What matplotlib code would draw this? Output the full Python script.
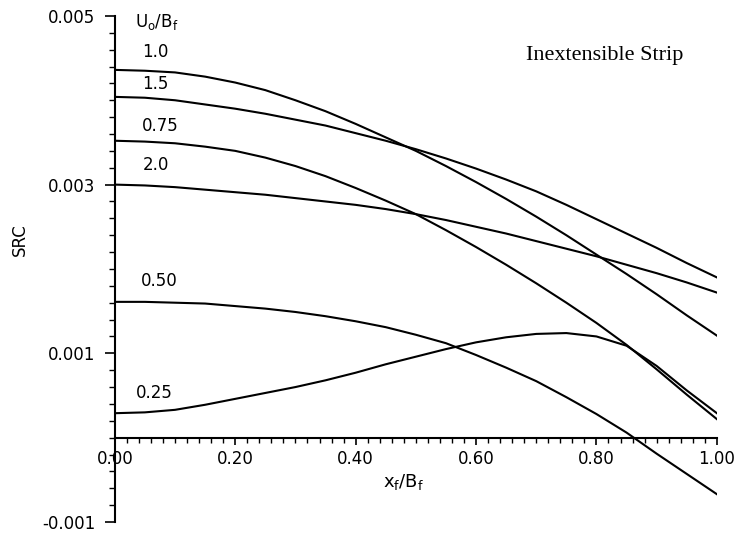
import numpy as np
import matplotlib.pyplot as plt
from matplotlib.ticker import MultipleLocator

xVals = [0.00, 0.05, 0.10, 0.15, 0.20, 0.25, 0.30, 0.35, 0.40, 0.45, 0.50,
         0.55, 0.60, 0.65, 0.70, 0.75, 0.80, 0.85, 0.90, 0.95, 1.00]

# SRC for each U_o/B_f
src100 = [0.00436, 0.00435, 0.00433, 0.00428, 0.00421, 0.00412, 0.00400, 0.00387, 0.00372, 0.00356, 0.00340,
          0.00322, 0.00303, 0.00283, 0.00262, 0.00240, 0.00217, 0.00194, 0.00170, 0.00145, 0.00121]
src150 = [0.00404, 0.00403, 0.00400, 0.00395, 0.00390, 0.00384, 0.00377, 0.00370, 0.00361, 0.00352, 0.00342,
          0.00331, 0.00319, 0.00306, 0.00292, 0.00276, 0.00259, 0.00242, 0.00225, 0.00207, 0.00190]
src075 = [0.00352, 0.00351, 0.00349, 0.00345, 0.00340, 0.00332, 0.00322, 0.00310, 0.00296, 0.00281, 0.00265,
          0.00246, 0.00226, 0.00205, 0.00183, 0.00160, 0.00136, 0.00110, 0.00081, 0.00051, 0.00022]
src200 = [0.00300, 0.00299, 0.00297, 0.00294, 0.00291, 0.00288, 0.00284, 0.00280, 0.00276, 0.00271, 0.00265,
          0.00258, 0.00250, 0.00242, 0.00233, 0.00224, 0.00215, 0.00205, 0.00195, 0.00184, 0.00172]
src050 = [0.00161, 0.00161, 0.00160, 0.00159, 0.00156, 0.00153, 0.00149, 0.00144, 0.00138, 0.00131, 0.00122,
          0.00112, 0.00098, 0.00083, 0.00067, 0.00048, 0.00028, 0.00006, -0.00019, -0.00043, -0.00067]
src025 = [0.00029, 0.00030, 0.00033, 0.00039, 0.00046, 0.00053, 0.00060, 0.00068, 0.00077, 0.00087, 0.00096,
          0.00105, 0.00113, 0.00119, 0.00123, 0.00124, 0.00120, 0.00109, 0.00085, 0.00056, 0.00029]

curveLabels = ["1.0", "1.5", "0.75", "2.0", "0.50", "0.25"]
curveData = [src100, src150, src075, src200, src050, src025]
# where the U_o/B_f labels sit (data coords)
labelX = [0.068, 0.068, 0.076, 0.068, 0.073, 0.066]
labelY = [0.00457, 0.00419, 0.00370, 0.00323, 0.00186, 0.00053]

xTicks = [0.0, 0.2, 0.4, 0.6, 0.8, 1.0]
xTickLabels = ["0.00", "0.20", "0.40", "0.60", "0.80", "1.00"]
yTicks = [-0.001, 0.001, 0.003, 0.005]
yTickLabels = ["-0.001", "0.001", "0.003", "0.005"]

plt.rcParams['font.family'] = ['DejaVu Sans']

fig = plt.figure(figsize=(7.36, 5.39), dpi=100)
ax = fig.add_axes([0.156, 0.0315, 0.818, 0.939])

for ys in curveData:
    ax.plot(xVals, ys, color='black', lw=1.5)

for lbl, lx, ly in zip(curveLabels, labelX, labelY):
    ax.text(lx, ly, lbl, fontsize=12, ha='center', va='center')

ax.text(0.07, 0.00493, r'U$_\mathregular{o}$/B$_\mathregular{f}$', fontsize=12, ha='center', va='center')

ax.set_xlim(0, 1.0)
ax.set_ylim(-0.001, 0.005)

ax.spines['top'].set_visible(False)
ax.spines['right'].set_visible(False)
ax.spines['bottom'].set_position(('data', 0))
ax.spines['bottom'].set_linewidth(1.5)
ax.spines['left'].set_linewidth(1.5)

ax.set_xticks(xTicks)
ax.set_xticklabels(xTickLabels)
ax.xaxis.set_minor_locator(MultipleLocator(0.02))
ax.set_yticks(yTicks)
ax.set_yticklabels(yTickLabels)
ax.yaxis.set_minor_locator(MultipleLocator(0.0002))

ax.tick_params(axis='x', which='major', direction='out', length=5, width=1.2, pad=4, labelsize=12)
ax.tick_params(axis='x', which='minor', direction='out', length=3.5, width=1.0)
ax.tick_params(axis='y', which='major', direction='out', length=7, width=1.2, pad=7, labelsize=12)
ax.tick_params(axis='y', which='minor', direction='out', length=4.5, width=1.0)

ax.text(-0.158, 0.557, 'SRC', transform=ax.transAxes, fontsize=12, rotation=90, ha='center', va='center')
ax.text(0.48, 0.079, r'x$_\mathregular{f}$/B$_\mathregular{f}$', transform=ax.transAxes, fontsize=13,
        ha='center', va='center')
ax.text(0.814, 0.921, 'Inextensible Strip', transform=ax.transAxes, fontsize=16,
        family='Liberation Serif', ha='center', va='center')

fig.savefig('out.png', dpi=100)
